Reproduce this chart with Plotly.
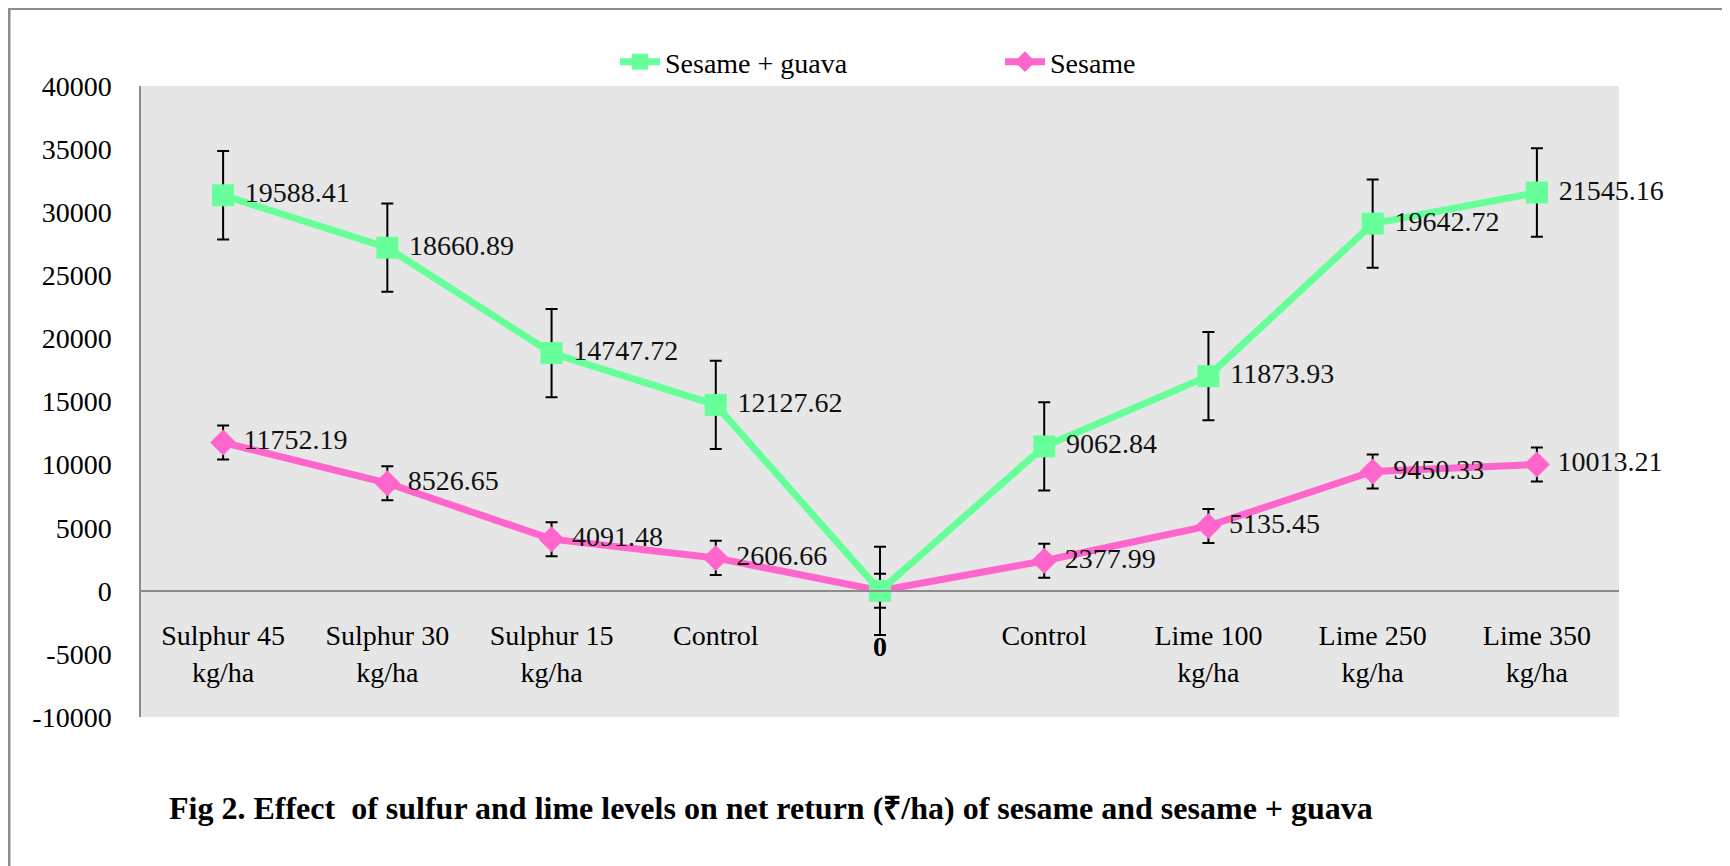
import plotly.graph_objects as go
import numpy as np

# ---- data ----
positions = [0, 1, 2, 3, 4, 5, 6, 7, 8]
categories = ["Sulphur 45<br>kg/ha", "Sulphur 30<br>kg/ha", "Sulphur 15<br>kg/ha", "Control",
              "0", "Control", "Lime 100<br>kg/ha", "Lime 250<br>kg/ha", "Lime 350<br>kg/ha"]
sesame = [11752.19, 8526.65, 4091.48, 2606.66, 0, 2377.99, 5135.45, 9450.33, 10013.21]
sesame_guava = [19588.41, 18660.89, 14747.72, 12127.62, 0, 9062.84, 11873.93, 19642.72, 21545.16]
sesame_err = [1350, 1350, 1350, 1350, 1350, 1350, 1350, 1350, 1350]
guava_err = [3500, 3500, 3500, 3500, 3500, 3500, 3500, 3500, 3500]
y_ticks = [-10000, -5000, 0, 5000, 10000, 15000, 20000, 25000, 30000, 35000, 40000]
caption = "Fig 2. Effect  of sulfur and lime levels on net return (₹/ha) of sesame and sesame + guava"

# stacked line chart: sesame + guava drawn on top of sesame
stacked = (np.array(sesame) + np.array(sesame_guava)).tolist()

def lab(vals):
    return ["" if v == 0 else "\u00a0" + f"{v:.2f}" for v in vals]

FONT = "Liberation Serif, Times New Roman, serif"
GREEN = "#66FF99"
PINK = "#FF66CC"

fig = go.Figure()
fig.add_trace(go.Scatter(
    x=positions, y=sesame, name="Sesame", mode="lines+markers+text",
    line=dict(color=PINK, width=7),
    marker=dict(symbol="diamond", size=20, color=PINK),
    text=lab(sesame), textposition="middle right",
    textfont=dict(family=FONT, size=28, color="#111"),
    error_y=dict(type="data", array=sesame_err, color="black", thickness=2, width=6),
    cliponaxis=False,
))
fig.add_trace(go.Scatter(
    x=positions, y=stacked, name="Sesame + guava", mode="lines+markers+text",
    line=dict(color=GREEN, width=7),
    marker=dict(symbol="square", size=22, color=GREEN),
    text=lab(sesame_guava), textposition="middle right",
    textfont=dict(family=FONT, size=28, color="#111"),
    error_y=dict(type="data", array=guava_err, color="black", thickness=2, width=6),
    cliponaxis=False,
))

# figure coords (page has an 8px body margin)
W, H = 1722, 858
L, R, T, B = 133, 1611, 78, 709
pw, ph = R - L, B - T

def px(x):
    return (x - L) / pw

def py(y):
    return (B - y) / ph

mid = categories.index("0")
ticktext = ["" if i == mid else c for i, c in enumerate(categories)]

fig.update_layout(
    width=W, height=H,
    margin=dict(l=L, r=W - R, t=T, b=H - B, pad=0),
    paper_bgcolor="white", plot_bgcolor="#E6E6E6",
    font=dict(family=FONT, size=28, color="black"),
    showlegend=True,
    legend=dict(orientation="h", x=px(607), y=py(54), xanchor="left", yanchor="middle",
                traceorder="reversed", entrywidth=330, entrywidthmode="pixels",
                font=dict(family=FONT, size=28, color="black"),
                bgcolor="rgba(0,0,0,0)", itemwidth=40),
    xaxis=dict(range=[-0.5, 8.5], tickmode="array", tickvals=positions, ticktext=ticktext,
               showgrid=False, zeroline=False, showline=True, linecolor="#8C8C8C", linewidth=1.5,
               anchor="free", position=0.2, ticks="", ticklabelstandoff=20,
               tickfont=dict(family=FONT, size=28, color="black")),
    yaxis=dict(range=[-10000, 40000], tickmode="array", tickvals=y_ticks,
               ticktext=[str(v) for v in y_ticks],
               showgrid=False, zeroline=False, showline=True, linecolor="#8C8C8C", linewidth=1.5,
               ticks="", ticklabelstandoff=22,
               tickfont=dict(family=FONT, size=28, color="black")),
    shapes=[dict(type="rect", xref="paper", yref="paper",
                 x0=px(1), x1=px(1740), y0=py(880), y1=py(0.5),
                 line=dict(color="#8C8C8C", width=3), fillcolor="rgba(0,0,0,0)", layer="below")],
    annotations=[
        dict(text="<b>" + caption + "</b>", xref="paper", yref="paper",
             x=px(159), y=py(800), xanchor="left", yanchor="middle", showarrow=False,
             font=dict(family=FONT, size=32, color="black")),
        dict(text="<b>" + categories[mid] + "</b>", xref="x", yref="paper",
             x=positions[mid], y=py(638), xanchor="center", yanchor="middle", showarrow=False,
             font=dict(family=FONT, size=28, color="black")),
    ],
)

fig.write_html("out.html")
